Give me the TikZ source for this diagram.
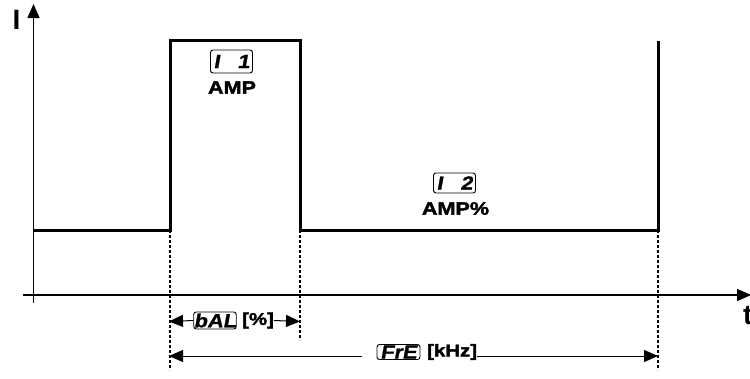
\documentclass[tikz,border=0pt]{standalone}
\usepackage{fontspec}
\setmainfont{Liberation Sans}
\newfontfamily\labfont[FakeStretch=1.2,FakeBold=2.2]{Liberation Sans Bold}
\newfontfamily\segfont[FakeSlant=0.18,FakeStretch=1.15,FakeBold=1.2]{Liberation Sans Bold}
\usetikzlibrary{arrows.meta}
\begin{document}
\begin{tikzpicture}[x=1pt,y=-1pt,
  axis/.style={line width=1.5pt},
  sig/.style={line width=3pt},
  guide/.style={line width=1.3pt, dash pattern=on 3pt off 2pt},
  dimline/.style={line width=1pt},
  bigtip/.style={-{Triangle[length=14pt,width=12pt]}},
  lab/.style={font=\labfont\fontsize{18}{18}\selectfont, inner sep=0pt},
  axlab/.style={font=\bfseries\fontsize{28}{28}\selectfont, inner sep=0pt},
  disp/.style={draw, rounded corners=2.5pt, line width=0.9pt, inner sep=0pt,
    minimum width=42pt, font=\segfont\fontsize{19}{19}\selectfont},
  dimlab/.style={font=\labfont\fontsize{17}{17}\selectfont, inner sep=0pt}]
\useasboundingbox (0,0) rectangle (750,378);
% axes
\coordinate (ybot) at (33.5,303);
\coordinate (ytop) at (33.5,4);
\coordinate (xl) at (23,295);
\coordinate (xr) at (751,295);
\draw[axis,bigtip] (ybot) -- (ytop);
\draw[axis,bigtip] (xl) -- (xr);
\node[axlab] (I) at (16.5,20) {I};
\node[axlab, anchor=north west] (t) at (743,306) {t};
% signal
\coordinate (s0) at (33.5,230);
\coordinate (s1) at (170,230);
\coordinate (s2) at (170,40.5);
\coordinate (s3) at (300,40.5);
\coordinate (s4) at (300,230);
\coordinate (s5) at (658,230);
\coordinate (s6) at (658,40.5);
\draw[sig] (s0) -- (s1) -- (s2) -- (s3) -- (s4) -- (s5) -- (s6);
% guides
\coordinate (g1) at (170,370);
\coordinate (g2) at (300,340);
\coordinate (g3) at (658,370);
\draw[guide] (s1) -- (g1);
\draw[guide] (s4) -- (g2);
\draw[guide] (s5) -- (g3);
% labels on pulse
\node[disp, minimum height=23pt, text width=36pt] (d1) at (231.5,61.5) {I\hfill 1};
\node[lab] (amp) at (232,87.5) {AMP};
\node[disp, minimum height=20pt, text width=36pt] (d2) at (454.5,183) {I\hfill 2};
\node[lab] (ampp) at (455.5,208.5) {AMP\%};
% bAL dimension
\coordinate (b1) at (169,321.5);
\coordinate (b2) at (300,321.5);
\node[disp, minimum height=17pt, minimum width=42pt] (dbal) at (215,320.5) {bAL};
\node[dimlab, anchor=west] (pct) at (242,320.5) {[\%]};
\draw[dimline,bigtip] (dbal.west) -- (b1);
\draw[dimline,bigtip] (pct.east) -- (b2);
% FrE dimension
\coordinate (f1) at (169,356);
\coordinate (f2) at (658,356);
\node[disp, minimum height=15pt, minimum width=43pt] (dfre) at (398.5,352) {FrE};
\node[dimlab, anchor=west] (khz) at (427,352) {[kHz]};
\draw[dimline,bigtip] ([xshift=-15pt]dfre.west |- f1) -- (f1);
\draw[dimline,bigtip] (khz.east |- f2) -- (f2);
\end{tikzpicture}
\end{document}
